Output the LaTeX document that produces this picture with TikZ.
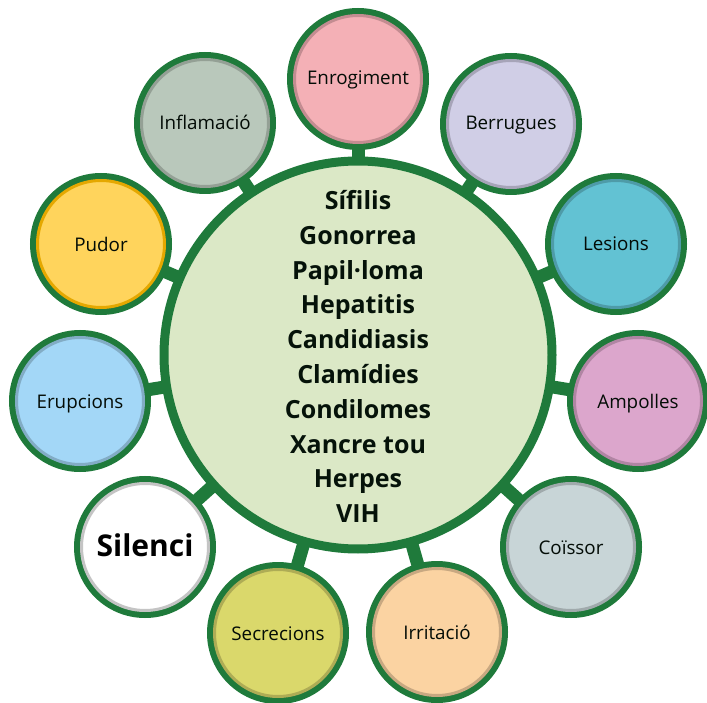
\documentclass[tikz,border=0pt]{standalone}
\usepackage{fontspec}
\setmainfont{Open Sans}
\definecolor{gr}{HTML}{1F7A3B}
\definecolor{hubc}{HTML}{DBE8C6}
\tikzset{x=1pt,y=-1pt,
 ring/.style={circle,draw=gr,line width=8pt,minimum size=134pt,inner sep=0pt,outer sep=0pt},
 disc/.code 2 args={\definecolor{fa}{HTML}{#1}\definecolor{fb}{HTML}{#2}\tikzset{circle,fill=fa,draw=fb,line width=3pt,minimum size=127pt,inner sep=0pt,font=\fontsize{18.8}{20}\selectfont,text=black!90!gr,text depth=3.5pt,text height=18pt}},
 link/.style={draw=gr,line width=13pt},
 hub/.style={circle,draw=gr,fill=hubc,line width=9pt,minimum size=388pt,inner sep=0pt,outer sep=0pt},
 hubtext/.style={align=center,font=\fontsize{25}{34.8}\selectfont\bfseries,text=black!85!gr}}
\begin{document}
\begin{tikzpicture}
\useasboundingbox (0,0) rectangle (707,703);
\node[hub] (h) at (358,355) {};
\foreach \n/\x/\y in {a/358/79,b/511/124,c/616/244,d/638/401,e/571/547,f/437/632,g/278/633,k/145/547,l/80/401,m/101/244,n/205/123}
  \node[ring] (\n) at (\x,\y) {};
\foreach \n in {a,b,c,d,e,f,g,k,l,m,n}
  \draw[link] (h) -- (\n);
\node[disc={F4B0B6}{C38C91},text height=15pt] (ta) at (a) {Enrogiment};
\node[disc={D0CEE6}{A6A4B8},text height=15pt] (tb) at (b) {Berrugues};
\node[disc={62C2D3}{4E9BA8},text height=16pt] (tc) at (c) {Lesions};
\node[disc={DCA6CC}{B085A3}] (td) at (d) {Ampolles};
\node[disc={C8D5D7}{A0AAAC}] (te) at (e) {Coïssor};
\node[disc={FBD3A2}{C8A881}] (tf) at (f) {Irritació};
\node[disc={DAD86B}{AEAC55}] (tg) at (g) {Secrecions};
\node[disc={FFFFFF}{C4C4C4},font=\fontsize{30}{32}\selectfont\bfseries,text=black,text height=23pt,text depth=4pt] (tk) at (k) {Silenci};
\node[disc={A3D7F7}{82ACC5}] (tl) at (l) {Erupcions};
\node[disc={FFD45C}{E5A800}] (tm) at (m) {Pudor};
\node[disc={B9C8BB}{94A095},text height=16pt] (tn) at (n) {Inflamació};
\node[hubtext] (ht) at (358,356.5) {Sífilis\\Gonorrea\\Papil·loma\\Hepatitis\\Candidiasis\\Clamídies\\Condilomes\\Xancre tou\\Herpes\\VIH};
\end{tikzpicture}
\end{document}
